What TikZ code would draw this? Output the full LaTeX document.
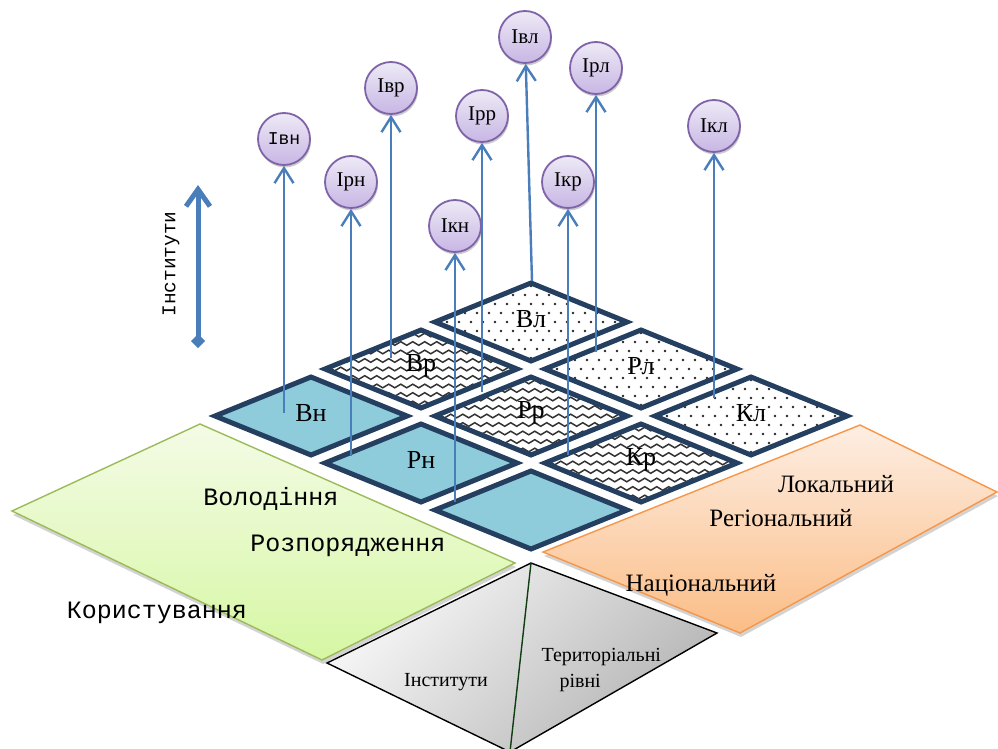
\documentclass[tikz,border=0pt]{standalone}
\usepackage{fontspec}
\setmainfont{Liberation Serif}
\setmonofont{Liberation Mono}
\usetikzlibrary{arrows.meta,decorations.pathmorphing,shadows}

\definecolor{tileblue}{HTML}{8FCCDB}
\definecolor{tilenavy}{HTML}{243F60}
\definecolor{arrblue}{HTML}{4A7EBB}
\definecolor{circrim}{HTML}{7F63A8}
\definecolor{circtop}{HTML}{EEEAF6}
\definecolor{circbot}{HTML}{C7B6E4}
\definecolor{greenrim}{HTML}{9BBB59}
\definecolor{greentop}{HTML}{F4FBE6}
\definecolor{greenbot}{HTML}{D6F7A3}
\definecolor{orangerim}{HTML}{F79646}
\definecolor{orangetop}{HTML}{FDEEE3}
\definecolor{orangebot}{HTML}{FBBD86}
\definecolor{graytop}{HTML}{F8F8F8}
\definecolor{graybot}{HTML}{B4B4B4}
\definecolor{divgreen}{HTML}{0F3F0F}

\newcommand{\tilebox}[2]{%
  \begin{scope}[shift={(#1)}]
    \begin{scope}
      \clip (-96,0) -- (0,-39) -- (96,0) -- (0,39) -- cycle;
      #2
    \end{scope}
    \draw[tilerim] (-96,0) -- (0,-39) -- (96,0) -- (0,39) -- cycle;
  \end{scope}}
\newcommand{\solidfill}{\fill[tileblue] (-100,-45) rectangle (100,45);}
\newcommand{\wavefill}{\foreach \k in {-5,...,5} \draw[wave] (-108,\k*8.5) -- (108,\k*8.5);}
\newcommand{\spotfill}{\foreach \b in {-5,...,5} \foreach \a in {-9,...,9} \fill[black!85] ({\a*12+6*mod(\b+6,2)},\b*9) circle (1.35pt);}

\begin{document}
\begin{tikzpicture}[x=1pt,y=-1pt,
  tilerim/.style={draw=tilenavy,line width=5pt,line join=miter},
  wave/.style={decorate,decoration={snake,amplitude=1.8pt,segment length=12pt},line width=1.5pt,black!80},
  lbl/.style={font=\fontsize{26}{28}\selectfont},
  inst/.style={circle,draw=circrim,line width=1.8pt,minimum size=52pt,inner sep=0pt,
    top color=circtop,bottom color=circbot,
    drop shadow={shadow xshift=1pt,shadow yshift=-2.5pt,opacity=.4},
    font=\fontsize{21}{23}\selectfont},
  arr/.style={arrblue,line width=2.4pt,-{Straight Barb[length=15pt,width=19pt]}},
  plane/.style={line width=1.4pt,drop shadow={shadow xshift=1pt,shadow yshift=-4pt,opacity=.35}},
  mono/.style={font=\ttfamily\fontsize{25}{28}\selectfont},
  serif/.style={font=\fontsize{25}{28}\selectfont}]
\useasboundingbox (0,0) rectangle (998,749);

% base planes
\path[plane,draw=greenrim,top color=greentop,bottom color=greenbot] (12,511) -- (200,424) -- (515,563) -- (322,660) -- cycle;
\path[plane,draw=orangerim,top color=orangetop,bottom color=orangebot] (543,552) -- (860,425) -- (997,492) -- (740,633) -- cycle;
\shade[draw=black,line width=1.4pt,top color=graytop,bottom color=graybot,shading angle=45] (327,663) -- (531,563) -- (717,633) -- (510,752) -- cycle;
\draw[divgreen,line width=1.4pt] (531,563) -- (510,752);

\node[mono] (own) at (271,499) {Володіння};
\node[mono] (disp) at (348,546) {Розпорядження};
\node[mono] (use) at (157,613) {Користування};
\node[serif] (loc) at (836,484) {Локальний};
\node[serif] (reg) at (781,518) {Регіональний};
\node[serif] (nat) at (701,585) {Національний};
\node[font=\fontsize{20}{26}\selectfont] (ginst) at (446,682) {Інститути};
\node[font=\fontsize{20}{26}\selectfont,align=left,anchor=west] (glev) at (538,670) {Територіальні\\\hspace*{18pt}рівні};

% tiles
\coordinate (vn) at (311,416);
\coordinate (rn) at (421,463);
\coordinate (kn) at (531,510);
\coordinate (vr) at (421,369);
\coordinate (rr) at (531,416);
\coordinate (kr) at (641,463);
\coordinate (vl) at (531,322);
\coordinate (rl) at (641,369);
\coordinate (kl) at (751,416);
\tilebox{vn}{\solidfill}
\tilebox{rn}{\solidfill}
\tilebox{kn}{\solidfill}
\tilebox{vr}{\wavefill}
\tilebox{rr}{\wavefill}
\tilebox{kr}{\wavefill}
\tilebox{vl}{\spotfill}
\tilebox{rl}{\spotfill}
\tilebox{kl}{\spotfill}
\node[lbl] (tvn) at ([yshift=3pt]vn) {Вн};
\node[lbl] (trn) at ([yshift=3pt]rn) {Рн};
\node[lbl] (tvr) at ([yshift=3pt]vr) {Вр};
\node[lbl] (trr) at ([yshift=3pt]rr) {Рр};
\node[lbl] (tkr) at ([yshift=3pt]kr) {Кр};
\node[lbl] (tvl) at ([yshift=3pt]vl) {Вл};
\node[lbl] (trl) at ([yshift=3pt]rl) {Рл};
\node[lbl] (tkl) at ([yshift=3pt]kl) {Кл};

% institutes axis
\coordinate (ilow) at (198,348);
\coordinate (ihigh) at (198,185);
\draw[arrblue,line width=5pt,{Diamond[length=14pt,width=14pt]}-{Straight Barb[length=17pt,width=24pt]}] (ilow) -- (ihigh);
\node[font=\ttfamily\fontsize{19.5}{22}\selectfont,rotate=90] (axlbl) at (171,264) {Інститути};

% institutes
\node[inst,font=\ttfamily\fontsize{18}{20}\selectfont] (Ivn) at (284,139) {Івн};
\node[inst] (Ivr) at (391,88) {Івр};
\node[inst] (Irn) at (351,182) {Ірн};
\node[inst] (Irr) at (482,116) {Ірр};
\node[inst] (Ikn) at (455,226) {Ікн};
\node[inst] (Ivl) at (525,37) {Івл};
\node[inst] (Ikr) at (568,182) {Ікр};
\node[inst] (Irl) at (596,68) {Ірл};
\node[inst] (Ikl) at (714,126) {Ікл};

\coordinate (fvn) at (284,413);
\coordinate (frn) at (351,456);
\coordinate (fvr) at (391,358);
\coordinate (fkn) at (455,502);
\coordinate (frr) at (482,392);
\coordinate (fvl) at (532,281);
\coordinate (fkr) at (568,455);
\coordinate (frl) at (596,352);
\coordinate (fkl) at (714,398);
\draw[arr] (fvn) -- (Ivn);
\draw[arr] (frn) -- (Irn);
\draw[arr] (fvr) -- (Ivr);
\draw[arr] (fkn) -- (Ikn);
\draw[arr] (frr) -- (Irr);
\draw[arr] (fvl) -- (Ivl);
\draw[arr] (fkr) -- (Ikr);
\draw[arr] (frl) -- (Irl);
\draw[arr] (fkl) -- (Ikl);
\end{tikzpicture}
\end{document}
